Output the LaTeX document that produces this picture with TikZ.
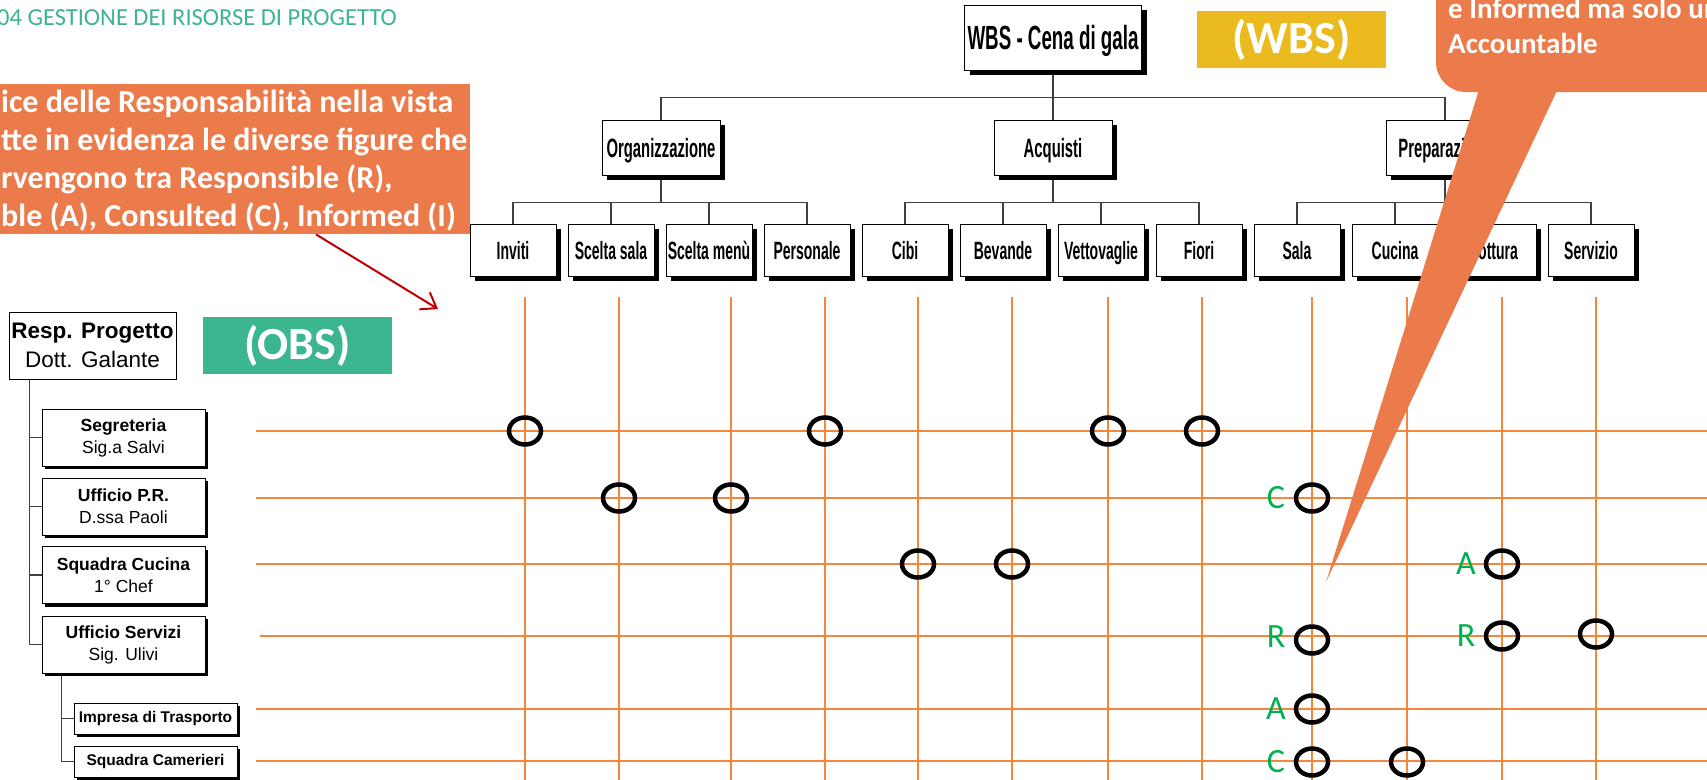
\documentclass[tikz,border=0pt]{standalone}
\usepackage{fontspec}
\setmainfont{Liberation Sans}
\newfontfamily\narrow[FakeStretch=0.56]{Liberation Sans}
\newfontfamily\calibri{Carlito}
\usetikzlibrary{shapes.geometric,shadows,arrows.meta,backgrounds}

\definecolor{slideorange}{HTML}{EC7B4B}
\definecolor{gridorange}{HTML}{F5873A}
\definecolor{racigreen}{HTML}{00B050}
\definecolor{titleteal}{HTML}{3EB393}
\definecolor{obsgreen}{HTML}{3CB591}
\definecolor{wbsyellow}{HTML}{EBBA1E}
\definecolor{arrowred}{HTML}{C00000}

\newcommand{\fsz}[2]{\fontsize{#1}{#2}\selectfont}

\begin{document}
\begin{tikzpicture}[x=1pt,y=-1pt,
    wbs box/.style={draw,line width=1pt,fill=white,inner sep=0pt,text depth=0pt,
      drop shadow={shadow xshift=5pt,shadow yshift=-5pt,fill=black,opacity=1}},
    wbs top/.style={wbs box,minimum width=177pt,minimum height=65pt,text height=24pt,
      font=\narrow\bfseries\fsz{33.5}{35}},
    wbs mid/.style={wbs box,minimum width=118pt,minimum height=55pt,text height=19pt,
      font=\narrow\bfseries\fsz{26.5}{28}},
    wbs leaf/.style={wbs box,minimum width=86pt,minimum height=52pt,text height=18pt,
      font=\narrow\bfseries\fsz{25}{27}},
    obs box/.style={draw,line width=1pt,fill=white,inner sep=0pt,align=center,minimum width=163pt,
      drop shadow={shadow xshift=3pt,shadow yshift=-3pt,fill=black,opacity=1}},
    obs unit/.style={obs box,minimum height=57pt,font=\fsz{17.5}{22}},
    obs sub/.style={obs box,minimum height=31pt,font=\bfseries\fsz{15.5}{18}},
    wbs edge/.style={draw=black!75,line width=1.4pt},
    tag box/.style={minimum width=189pt,minimum height=57pt,inner sep=0pt,text=white,
      font=\calibri\bfseries\fsz{46}{50}},
    note line/.style={anchor=base west,inner sep=0pt,text=white,font=\calibri\bfseries\fsz{32}{38}},
    raci grid/.style={draw=gridorange,line width=1.5pt},
    raci/.style={draw,ellipse,line width=4.5pt,minimum width=32pt,minimum height=27pt,inner sep=0pt},
    raci tag/.style={inner sep=0pt,text=racigreen,font=\calibri\fsz{34}{36}}]

  \useasboundingbox (0,0) rectangle (1707,779);
  \clip (0,0) rectangle (1707,779);

  \node[anchor=base west,inner sep=0pt,text=titleteal,font=\calibri\fsz{24.5}{27}] (title)
    at (-3,25) {04 GESTIONE DEI RISORSE DI PROGETTO};

  % WBS
  \node[wbs top] (wbs) at (1053,37.5) {WBS - Cena di gala};
  \node[wbs mid] (org) at (661,147.5) {Organizzazione};
  \node[wbs mid] (acq) at (1053,147.5) {Acquisti};
  \node[wbs mid] (prep) at (1445,147.5) {Preparazione};
  \foreach \name [count=\i from 0] in {Inviti,Scelta sala,Scelta menù,Personale,
      Cibi,Bevande,Vettovaglie,Fiori,Sala,Cucina,Cottura,Servizio}
    \node[wbs leaf] (t\i) at ({513+98*\i},250) {\name};

  \node[tag box,fill=wbsyellow] (wbstag) at (1291.5,39.5) {(WBS)};

  % OBS
  \node[draw,line width=1pt,fill=white,inner sep=0pt,align=center,minimum width=167pt,
    minimum height=67pt,font=\fsz{22.5}{29}] (resp) at (92.5,345.5)
    {\textbf{Resp. Progetto}\\Dott. Galante};
  \node[obs unit] (seg) at (123.5,437.5) {\textbf{Segreteria}\\Sig.a Salvi};
  \node[obs unit] (pr) at (123.5,506.5) {\textbf{Ufficio P.R.}\\D.ssa Paoli};
  \node[obs unit] (cuc) at (123.5,575) {\textbf{Squadra Cucina}\\1° Chef};
  \node[obs unit] (serv) at (123.5,644.5) {\textbf{Ufficio Servizi}\\Sig. Ulivi};
  \node[obs sub] (imp) at (155.5,718.5) {Impresa di Trasporto};
  \node[obs sub] (cam) at (155.5,761.5) {Squadra Camerieri};

  \node[tag box,fill=obsgreen] (obs) at (297.5,345.5) {(OBS)};

  \begin{pgfonlayer}{background}
    \draw[wbs edge] (wbs.south) -- (acq.north);
    \foreach \p in {org,prep}
      \draw[wbs edge] (wbs.south) -- ++(0,27) -| (\p.north);
    \foreach \p/\a in {org/0,acq/4,prep/8}
      \foreach \k in {0,...,3} {
        \pgfmathtruncatemacro\c{\a+\k}
        \draw[wbs edge] (\p.south) -- ++(0,27) -| (t\c.north);
      }
    \foreach \u in {seg,pr,cuc,serv}
      \draw[wbs edge] ([xshift=21pt]resp.south west) |- (\u.west);
    \foreach \u in {imp,cam}
      \draw[wbs edge] ([xshift=20pt]serv.south west) |- (\u.west);
  \end{pgfonlayer}

  % matrice RACI
  \foreach \x in {525,619,731,825,918,1012,1108,1202,1312,1407,1502,1596}
    \draw[raci grid] (\x,297) -- (\x,790);
  \foreach \y/\s in {431/256,498/256,564/256,636/260,709/256,761/256}
    \draw[raci grid] (\s,\y) -- (1720,\y);

  \foreach \r/\c/\x/\y in {1/1/525/431,1/4/825/431,1/7/1108/431,1/8/1202/431,
      2/2/619/498,2/3/731/498,2/9/1312/498,
      3/5/918/564,3/6/1012/564,3/11/1502/564,
      4/9/1312/640,4/11/1502/636,4/12/1596/634,
      5/9/1312/709,6/9/1312/762,6/10/1407/762}
    \node[raci] (r\r c\c) at (\x,\y) {};

  \foreach \n/\t/\d in {r2c9/C/0,r3c11/A/0,r4c9/R/3,r4c11/R/0,r5c9/A/0,r6c9/C/0}
    \node[raci tag] (tag-\n) at ([xshift=-36pt,yshift=\d pt]\n.center) {\t};

  % nota a sinistra
  \node[fill=slideorange,inner sep=0pt,minimum width=470pt,minimum height=150pt,
    anchor=north west] (note) at (0,84) {};
  \foreach \txt [count=\i from 0] in {ice delle Responsabilità nella vista,
      tte in evidenza le diverse figure che,{rvengono tra Responsible (R),},
      {ble (A), Consulted (C), Informed (I)}}
    \node[note line] (note\i) at (1,{112+38.3*\i}) {\txt};

  \coordinate (gridcorner) at (438,309);
  \draw[arrowred,line width=2pt,-{Straight Barb[length=14pt,width=20pt]}]
    ([xshift=316pt]note.south west) -- (gridcorner);

  % fumetto in alto a destra
  \fill[slideorange,rounded corners=30pt] (1436,-40) rectangle (1760,92);
  \fill[slideorange] (1482,80) -- (1562,80) -- (1326,582) -- cycle;
  \node[note line,font=\calibri\bfseries\fsz{29}{34}] (bubble0) at (1448,18) {e Informed ma solo un};
  \node[note line,font=\calibri\bfseries\fsz{29}{34}] (bubble1) at (1448,53) {Accountable};

\end{tikzpicture}
\end{document}
